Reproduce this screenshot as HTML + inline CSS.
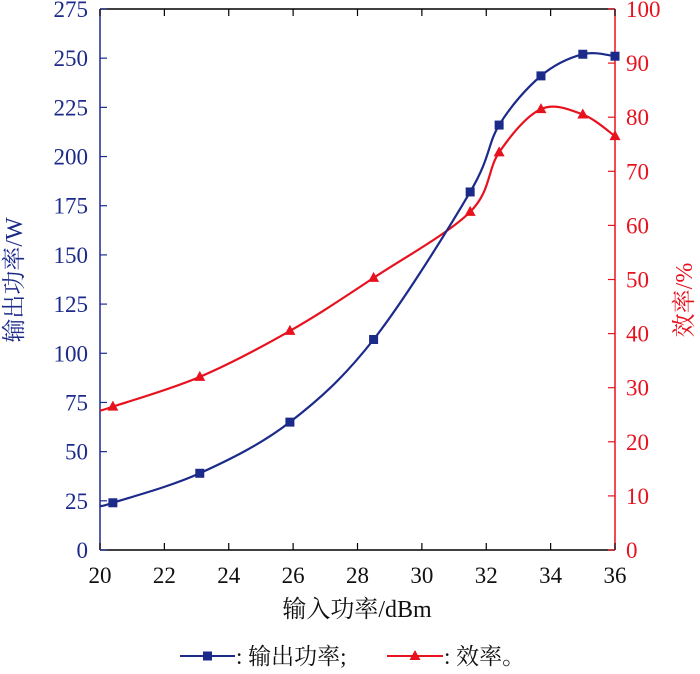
<!DOCTYPE html>
<html><head><meta charset="utf-8"><style>
body{margin:0;background:#fff}
svg text{font-family:"Liberation Serif","Noto Serif CJK SC",serif}
</style></head><body>
<svg id="c" width="700" height="669" xmlns="http://www.w3.org/2000/svg"></svg>
<script>
const xs=[20.4,23.1,25.9,28.5,31.5,32.4,33.7,35,36];
const powerW=[24,39,65,107,182,216,241,252,251];
const effPct=[26.5,32,40.5,50.3,62.5,73.5,81.5,80.5,76.5];
const powerStart=22.5, effStart=25.8;
const xTicks=[20,22,24,26,28,30,32,34,36];
const yLTicks=[0,25,50,75,100,125,150,175,200,225,250,275];
const yRTicks=[0,10,20,30,40,50,60,70,80,90,100];
const L=100,R=615,T=9,B=550;
const BLUE='#1c2a8a',RED='#e8121f';
const X=v=>L+(v-20)/16*(R-L);
const YL=v=>B-v/275*(B-T);
const YR=v=>B-v/100*(B-T);
const svg=document.getElementById('c');
const NS='http://www.w3.org/2000/svg';
function mk(tag,attrs,parent){const e=document.createElementNS(NS,tag);for(const k in attrs)e.setAttribute(k,attrs[k]);(parent||svg).appendChild(e);return e;}
function txt(s,x,y,attrs){const e=mk('text',Object.assign({x:x,y:y},attrs));e.textContent=s;return e;}
// frame
let f=mk('line',{x1:L,y1:T,x2:R,y2:T,stroke:'#000','stroke-width':1.5});

f=mk('line',{x1:L,y1:B,x2:R,y2:B,stroke:'#000','stroke-width':1.5});

f=mk('line',{x1:L,y1:T,x2:L,y2:B,stroke:BLUE,'stroke-width':1.5});

f=mk('line',{x1:R,y1:T,x2:R,y2:B,stroke:RED,'stroke-width':1.5});

xTicks.forEach(v=>{
  const g=mk('g',{});
  
  
  mk('line',{x1:X(v),y1:B,x2:X(v),y2:B-7,stroke:'#000','stroke-width':1.2},g);
  mk('line',{x1:X(v),y1:T,x2:X(v),y2:T+7,stroke:'#000','stroke-width':1.2},g);
  const t=txt(String(v),X(v),583,{'text-anchor':'middle','font-size':23,fill:'#111'});g.appendChild(t);
});
yLTicks.forEach(v=>{
  const g=mk('g',{});
  
  
  mk('line',{x1:L,y1:YL(v),x2:L+7,y2:YL(v),stroke:BLUE,'stroke-width':1.2},g);
  const t=txt(String(v),88,YL(v)+8,{'text-anchor':'end','font-size':23,fill:BLUE});g.appendChild(t);
});
yRTicks.forEach(v=>{
  const g=mk('g',{});
  
  
  mk('line',{x1:R,y1:YR(v),x2:R-7,y2:YR(v),stroke:RED,'stroke-width':1.2},g);
  const t=txt(String(v),626,YR(v)+8,{'text-anchor':'start','font-size':23,fill:RED});g.appendChild(t);
});
function smooth(pts){
  let d='M'+pts[0][0]+','+pts[0][1];
  for(let i=0;i<pts.length-1;i++){
    const p0=pts[Math.max(0,i-1)],p1=pts[i],p2=pts[i+1],p3=pts[Math.min(pts.length-1,i+2)];
    const c1=[p1[0]+(p2[0]-p0[0])/6,p1[1]+(p2[1]-p0[1])/6];
    const c2=[p2[0]-(p3[0]-p1[0])/6,p2[1]-(p3[1]-p1[1])/6];
    d+=' C'+c1+' '+c2+' '+p2;
  }
  return d;
}
const pP=[[X(20),YL(powerStart)]].concat(xs.map((x,i)=>[X(x),YL(powerW[i])]));
const eP=[[X(20),YR(effStart)]].concat(xs.map((x,i)=>[X(x),YR(effPct[i])]));
let ln=mk('path',{d:smooth(eP),fill:'none',stroke:RED,'stroke-width':2.2});

ln=mk('path',{d:smooth(pP),fill:'none',stroke:BLUE,'stroke-width':2.2});

xs.forEach((x,i)=>{
  const cx=X(x),cy=YL(powerW[i]);
  const m=mk('rect',{x:cx-4.5,y:cy-4.5,width:9,height:9,fill:BLUE});
  
  
});
xs.forEach((x,i)=>{
  const cx=X(x),cy=YR(effPct[i]);
  const m=mk('polygon',{points:`${cx},${cy-6} ${cx-5.5},${cy+4} ${cx+5.5},${cy+4}`,fill:RED});
  
  
});
let t=txt('输入功率/dBm',357,617,{'text-anchor':'middle','font-size':24,fill:'#111'});

t=txt('输出功率/W',0,0,{'text-anchor':'middle','font-size':24,fill:BLUE,transform:'translate(22,280) rotate(-90)'});

t=txt('效率/%',0,0,{'text-anchor':'middle','font-size':24,fill:RED,transform:'translate(692,300) rotate(-90)'});

// legend
const lg=mk('g',{});


mk('line',{x1:180,y1:656,x2:235,y2:656,stroke:BLUE,'stroke-width':2},lg);
mk('rect',{x:203,y:651.5,width:9,height:9,fill:BLUE},lg);
let lt=txt(': 输出功率;',236,664,{'font-size':23,fill:'#111'});lg.appendChild(lt);

mk('line',{x1:387,y1:656,x2:443,y2:656,stroke:RED,'stroke-width':2},lg);
mk('polygon',{points:'415,650 409.5,660 420.5,660',fill:RED},lg);
lt=txt(': 效率。',444,664,{'font-size':23,fill:'#111'});lg.appendChild(lt);

</script>
</body></html>
